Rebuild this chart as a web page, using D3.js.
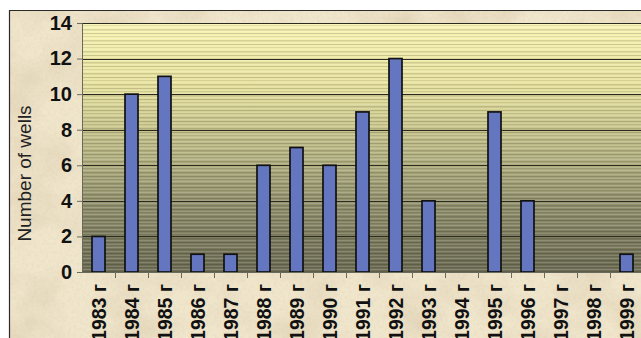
<!DOCTYPE html>
<html>
<head>
<meta charset="utf-8">
<script src="https://cdn.jsdelivr.net/npm/d3@7/dist/d3.min.js"></script>
<style>
  html, body { margin: 0; padding: 0; background: #fff; }
  svg { display: block; }
</style>
</head>
<body>
<svg id="chart" width="641" height="338"></svg>
<script>
// Wells drilled per year
const years = ["1983", "1984", "1985", "1986", "1987", "1988", "1989", "1990", "1991",
               "1992", "1993", "1994", "1995", "1996", "1997", "1998", "1999"];
const wells = [2, 10, 11, 1, 1, 6, 7, 6, 9, 12, 4, 0, 9, 4, 0, 0, 1];
const yTicks = [0, 2, 4, 6, 8, 10, 12, 14];
const yTitle = "Number of wells";
const yearSuffix = " г";

const W = 641, H = 338;
const frame = { x: 9.5, y: 10.5 };
const plot = { left: 82, top: 23, right: 643, bottom: 272 };

const svg = d3.select("#chart");
const defs = svg.append("defs");

// Paper texture for the card behind the chart
const paper = defs.append("filter").attr("id", "paper")
  .attr("x", 0).attr("y", 0).attr("width", 1).attr("height", 1);
paper.append("feTurbulence").attr("type", "fractalNoise")
  .attr("baseFrequency", "0.018 0.022").attr("numOctaves", 4).attr("seed", 7);
paper.append("feColorMatrix").attr("type", "matrix")
  .attr("values", "0 0 0 0 0.66  0 0 0 0 0.55  0 0 0 0 0.38  1.6 0 0 0 -0.62");

const fine = defs.append("filter").attr("id", "fine")
  .attr("x", 0).attr("y", 0).attr("width", 1).attr("height", 1);
fine.append("feTurbulence").attr("type", "fractalNoise")
  .attr("baseFrequency", "0.35").attr("numOctaves", 2).attr("seed", 3);
fine.append("feColorMatrix").attr("type", "matrix")
  .attr("values", "0 0 0 0 0.60  0 0 0 0 0.50  0 0 0 0 0.35  1.2 0 0 0 -0.5");

// Plot fill: pale yellow at the top fading to dark olive
const grad = defs.append("linearGradient").attr("id", "plotFill")
  .attr("x1", 0).attr("y1", 0).attr("x2", 0).attr("y2", 1);
[[0, "#f8f4b4"], [0.25, "#e8e3a0"], [0.5, "#bbb986"], [0.75, "#8e8d6b"], [1, "#6b6b53"]]
  .forEach(([o, c]) => grad.append("stop").attr("offset", o).attr("stop-color", c));

// Thin horizontal banding across the plot fill
const stripes = defs.append("pattern").attr("id", "stripes")
  .attr("patternUnits", "userSpaceOnUse").attr("width", 8).attr("height", 11);
[[0, 0.16, "#000"], [2, 0.12, "#fff"], [3, 0.09, "#000"], [5, 0.18, "#fff"],
 [7, 0.13, "#000"], [8, 0.07, "#000"], [9, 0.14, "#fff"]]
  .forEach(([y, op, c]) => stripes.append("rect")
    .attr("x", 0).attr("y", y).attr("width", 8).attr("height", 1)
    .attr("fill", c).attr("fill-opacity", op));

// Card background and frame
svg.append("rect").attr("x", frame.x).attr("y", frame.y)
  .attr("width", W - frame.x).attr("height", H - frame.y).attr("fill", "#f0e6cc");
svg.append("rect").attr("x", frame.x).attr("y", frame.y)
  .attr("width", W - frame.x).attr("height", H - frame.y)
  .attr("filter", "url(#paper)").attr("opacity", 0.6);
svg.append("rect").attr("x", frame.x).attr("y", frame.y)
  .attr("width", W - frame.x).attr("height", H - frame.y)
  .attr("filter", "url(#fine)").attr("opacity", 0.3);
svg.append("path")
  .attr("d", `M${frame.x},${H} V${frame.y} H${W}`)
  .attr("fill", "none").attr("stroke", "#2a2a2a").attr("stroke-width", 1.2);

// Scales
const x = d3.scaleBand().domain(years).range([plot.left, plot.right]).padding(0);
const y = d3.scaleLinear().domain([0, 14]).range([plot.bottom, plot.top]);
const barW = 13;

// Plot area
svg.append("rect").attr("x", plot.left).attr("y", plot.top)
  .attr("width", plot.right - plot.left).attr("height", plot.bottom - plot.top)
  .attr("fill", "url(#plotFill)");
svg.append("rect").attr("x", plot.left).attr("y", plot.top)
  .attr("width", plot.right - plot.left).attr("height", plot.bottom - plot.top)
  .attr("fill", "url(#stripes)");

// Gridlines
svg.append("g").selectAll("line").data(yTicks.filter(t => t > 0)).join("line")
  .attr("x1", plot.left).attr("x2", plot.right)
  .attr("y1", d => Math.round(y(d)) + 0.5).attr("y2", d => Math.round(y(d)) + 0.5)
  .attr("stroke", "#2b2b20").attr("stroke-width", 1);

// Bars
svg.append("g").selectAll("rect")
  .data(years.map((yr, i) => ({ yr, v: wells[i] })).filter(d => d.v > 0))
  .join("rect")
  .attr("x", d => x(d.yr) + x.bandwidth() / 2 - barW / 2)
  .attr("y", d => y(d.v))
  .attr("width", barW)
  .attr("height", d => y(0) - y(d.v))
  .attr("fill", "#6476bf")
  .attr("stroke", "#111")
  .attr("stroke-width", 1.7);

// Y axis
const yAxis = svg.append("g").attr("transform", `translate(${plot.left},0)`)
  .call(d3.axisLeft(y).tickValues(yTicks).tickSize(5).tickPadding(5).tickFormat(d3.format("d")));
yAxis.select(".domain").attr("stroke", "#6a6a5a");
yAxis.selectAll(".tick line").attr("stroke", "#6a6a5a");
yAxis.selectAll(".tick text")
  .attr("font-family", "'Liberation Sans', Arial, sans-serif")
  .attr("font-size", 20).attr("font-weight", "bold").attr("fill", "#111");

// X axis: ticks on band boundaries, labels rotated
const xg = svg.append("g");
xg.append("line").attr("x1", plot.left).attr("x2", plot.right)
  .attr("y1", plot.bottom + 0.5).attr("y2", plot.bottom + 0.5).attr("stroke", "#6a6a5a");
xg.selectAll("line.tk").data(years).join("line").attr("class", "tk")
  .attr("x1", d => x(d) + x.bandwidth() + 0.5).attr("x2", d => x(d) + x.bandwidth() + 0.5)
  .attr("y1", plot.bottom).attr("y2", plot.bottom + 6).attr("stroke", "#6a6a5a");
xg.selectAll("text").data(years).join("text")
  .attr("transform", d => `translate(${x(d) + x.bandwidth() / 2 + 7},${plot.bottom + 12}) rotate(-90)`)
  .attr("text-anchor", "end")
  .attr("font-family", "'Liberation Sans', Arial, sans-serif")
  .attr("font-size", 19.5).attr("font-weight", "bold").attr("fill", "#111")
  .text(d => d + yearSuffix);

// Y axis title
svg.append("text")
  .attr("transform", `translate(31,${(plot.top + plot.bottom) / 2 + 26}) rotate(-90)`)
  .attr("text-anchor", "middle")
  .attr("font-family", "'Liberation Sans', Arial, sans-serif")
  .attr("font-size", 19).attr("fill", "#222")
  .text(yTitle);
</script>
</body>
</html>
